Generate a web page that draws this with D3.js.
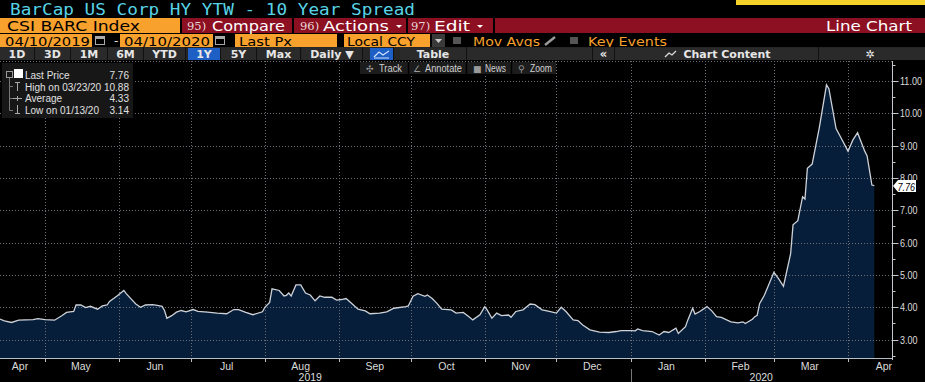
<!DOCTYPE html>
<html>
<head>
<meta charset="utf-8">
<script src="https://cdn.jsdelivr.net/npm/d3@7"></script>
<style>
  body { margin: 0; background: #000; }
  svg { display: block; }
  text { font-family: "DejaVu Sans", Verdana, sans-serif; }
  .small { font-family: "Liberation Sans", Arial, sans-serif; }
</style>
</head>
<body>
<div id="chart"></div>
<script>
// BarCap US Corp HY YTW - 10 year spread, daily-ish
const dates = [
  '2019-04-10','2019-04-14','2019-04-17','2019-04-20','2019-04-26','2019-04-28',
  '2019-05-01','2019-05-05','2019-05-08','2019-05-10','2019-05-13','2019-05-14','2019-05-16',
  '2019-05-18','2019-05-20','2019-05-23','2019-05-25','2019-05-27','2019-05-28','2019-05-31',
  '2019-06-03','2019-06-04','2019-06-06','2019-06-08','2019-06-10','2019-06-12','2019-06-15',
  '2019-06-17','2019-06-19','2019-06-20','2019-06-21','2019-06-23','2019-06-25','2019-06-27',
  '2019-06-29','2019-07-02','2019-07-04','2019-07-08','2019-07-12','2019-07-16','2019-07-19',
  '2019-07-21','2019-07-24','2019-07-27','2019-07-31','2019-08-01','2019-08-03','2019-08-04',
  '2019-08-07','2019-08-09','2019-08-10','2019-08-11','2019-08-12','2019-08-14','2019-08-16',
  '2019-08-18','2019-08-20','2019-08-22','2019-08-24','2019-08-26','2019-08-29','2019-08-31',
  '2019-09-02','2019-09-04','2019-09-06','2019-09-09','2019-09-12','2019-09-14','2019-09-18',
  '2019-09-21','2019-09-24','2019-09-29','2019-09-30','2019-10-02','2019-10-04','2019-10-07',
  '2019-10-08','2019-10-10','2019-10-12','2019-10-14','2019-10-18','2019-10-20','2019-10-23',
  '2019-10-25','2019-10-27','2019-10-30','2019-11-01','2019-11-02','2019-11-04','2019-11-06',
  '2019-11-08','2019-11-11','2019-11-12','2019-11-14','2019-11-17','2019-11-20','2019-11-22',
  '2019-11-25','2019-11-28','2019-12-01','2019-12-03','2019-12-05','2019-12-08','2019-12-10',
  '2019-12-12','2019-12-15','2019-12-19','2019-12-23','2019-12-26','2019-12-28','2020-01-01',
  '2020-01-03','2020-01-04','2020-01-06','2020-01-10','2020-01-13','2020-01-15','2020-01-17',
  '2020-01-20','2020-01-21','2020-01-24','2020-01-25','2020-01-27','2020-01-28','2020-01-30',
  '2020-02-02','2020-02-04','2020-02-06','2020-02-08','2020-02-12','2020-02-15','2020-02-17',
  '2020-02-18','2020-02-21','2020-02-22','2020-02-23','2020-02-24','2020-02-26','2020-03-01',
  '2020-03-03','2020-03-05','2020-03-08','2020-03-09','2020-03-11','2020-03-13','2020-03-14',
  '2020-03-15','2020-03-17','2020-03-20','2020-03-23','2020-03-24','2020-03-27','2020-03-29',
  '2020-04-01','2020-04-03','2020-04-05','2020-04-08','2020-04-09','2020-04-11','2020-04-12'
];
const spread = [
  3.70,3.58,3.53,3.60,3.62,3.65,
  3.62,3.60,3.74,3.84,3.87,4.07,4.07,
  3.99,4.03,3.94,4.04,4.07,4.18,4.34,
  4.52,4.42,4.26,4.10,4.00,4.07,4.08,
  4.06,4.03,3.90,3.66,3.74,3.85,3.90,
  3.86,3.93,3.87,3.85,3.82,3.80,3.93,
  3.93,3.84,3.77,3.86,4.00,4.15,4.57,
  4.52,4.35,4.37,4.44,4.35,4.69,4.69,
  4.44,4.38,4.20,4.35,4.31,4.31,4.22,
  4.24,4.27,4.14,3.94,3.89,3.80,3.82,
  3.86,3.97,4.02,4.04,4.34,4.42,4.34,
  4.38,4.27,4.12,3.94,3.92,3.82,3.84,
  3.73,3.61,3.77,4.02,3.92,3.66,3.82,
  3.74,3.76,3.69,3.87,3.92,4.10,4.08,
  3.92,3.87,3.82,4.00,3.87,3.61,3.59,
  3.45,3.30,3.23,3.22,3.25,3.28,3.28,
  3.27,3.33,3.28,3.25,3.14,3.25,3.22,
  3.35,3.19,3.40,3.61,3.97,3.79,3.87,
  4.02,3.89,3.71,3.69,3.55,3.52,3.55,
  3.50,3.63,3.71,3.75,4.11,4.37,5.08,
  4.88,4.65,5.66,6.55,6.68,7.42,7.35,
  8.30,8.43,9.56,10.88,10.76,9.53,9.25,
  8.83,9.17,9.40,8.83,8.68,7.78,7.76
];
const yTicks = [3, 4, 5, 6, 7, 8, 9, 10, 11];
const monthLabels = ['Apr','May','Jun','Jul','Aug','Sep','Oct','Nov','Dec','Jan','Feb','Mar','Apr'];
const legendRows = [
  ['Last Price', '7.76'],
  ['High on 03/23/20', '10.88'],
  ['Average', '4.33'],
  ['Low on 01/13/20', '3.14']
];
const lastValue = 7.76;

const W = 925, H = 382;
const plot = { left: 0, right: 892, top: 61, bottom: 358 };

const ORANGE = '#f8a12c';
const RED = '#8c1022';
const CYAN = '#58d3e6';
const FILL = '#061e3a';

const parse = d3.timeParse('%Y-%m-%d');
const data = dates.map((d, i) => ({ date: parse(d), value: spread[i] }));

const svg = d3.select('#chart').append('svg')
  .attr('width', W)
  .attr('height', H);

svg.append('rect').attr('width', W).attr('height', H).attr('fill', '#000');

// ---- header rows ----
svg.append('rect').attr('x', 736).attr('y', 0).attr('width', 189).attr('height', 5).attr('fill', '#f5d22a');

svg.append('text')
  .attr('x', 10).attr('y', 15)
  .attr('fill', CYAN)
  .style('font-family', '"DejaVu Sans Mono", monospace')
  .style('font-size', '16.5px')
  .attr('textLength', 405).attr('lengthAdjust', 'spacingAndGlyphs')
  .text('BarCap US Corp HY YTW - 10 Year Spread');

// row 1: ticker + red action bar
svg.append('rect').attr('x', 0).attr('y', 18).attr('width', W).attr('height', 15).attr('fill', RED);
svg.append('rect').attr('x', 0).attr('y', 18).attr('width', 181).attr('height', 15).attr('fill', ORANGE);
svg.append('text').attr('x', 7).attr('y', 30.5).attr('fill', '#000')
  .style('font-size', '14.5px').attr('textLength', 133).attr('lengthAdjust', 'spacingAndGlyphs')
  .text('CSI BARC Index');

const redButtons = [
  { x0: 182, x1: 292, num: '95)', label: 'Compare', nx: 187, lx: 212, lw: 73, arrow: false },
  { x0: 294, x1: 406, num: '96)', label: 'Actions', nx: 300, lx: 323, lw: 66, arrow: true },
  { x0: 408, x1: 493, num: '97)', label: 'Edit', nx: 411, lx: 434, lw: 36, arrow: true }
];
redButtons.forEach(b => {
  svg.append('line').attr('x1', b.x0 - 1).attr('x2', b.x0 - 1).attr('y1', 18).attr('y2', 33)
    .attr('stroke', '#000').attr('stroke-width', 2);
  svg.append('text').attr('x', b.nx).attr('y', 30).attr('fill', '#e8d8d8')
    .style('font-family', '"DejaVu Serif", serif').style('font-size', '11.5px').text(b.num);
  svg.append('text').attr('x', b.lx).attr('y', 30.5).attr('fill', '#fff')
    .style('font-size', '14px').attr('textLength', b.lw).attr('lengthAdjust', 'spacingAndGlyphs')
    .text(b.label);
  if (b.arrow) {
    svg.append('path')
      .attr('d', `M${b.lx + b.lw + 7},25 h6 l-3,3 Z`)
      .attr('fill', '#fff');
  }
});
svg.append('line').attr('x1', 494).attr('x2', 494).attr('y1', 18).attr('y2', 33)
  .attr('stroke', '#000').attr('stroke-width', 2);
svg.append('text').attr('x', 912).attr('y', 30.5).attr('text-anchor', 'end').attr('fill', '#fff')
  .style('font-size', '14px').attr('textLength', 86).attr('lengthAdjust', 'spacingAndGlyphs')
  .text('Line Chart');

// row 2: dates and options
const orangeBoxes = [
  { x: 0, w: 92, text: '04/10/2019', tx: 5, tw: 85 },
  { x: 120, w: 93, text: '04/10/2020', tx: 124, tw: 86 },
  { x: 235, w: 102, text: 'Last Px', tx: 239, tw: 53 },
  { x: 344, w: 86, text: 'Local CCY', tx: 347, tw: 68 }
];
orangeBoxes.forEach(b => {
  svg.append('rect').attr('x', b.x).attr('y', 34).attr('width', b.w).attr('height', 13).attr('fill', ORANGE);
  svg.append('text').attr('x', b.tx).attr('y', 45.5).attr('fill', '#000')
    .style('font-size', '13px').attr('textLength', b.tw).attr('lengthAdjust', 'spacingAndGlyphs')
    .text(b.text);
});
[93, 213].forEach(x => {
  const g = svg.append('g').attr('transform', `translate(${x + 2},36)`);
  g.append('rect').attr('x', 0.5).attr('y', 0.5).attr('width', 9).attr('height', 8).attr('fill', 'none').attr('stroke', '#aaa');
  g.append('rect').attr('width', 10).attr('height', 3).attr('fill', '#aaa');
});
svg.append('text').attr('x', 114).attr('y', 45).attr('fill', '#ddd').style('font-size', '12px').text('-');
svg.append('rect').attr('x', 432).attr('y', 34).attr('width', 13).attr('height', 13).attr('fill', '#3a3a3a');
svg.append('path').attr('d', 'M435,39 h7 l-3.5,4 Z').attr('fill', '#ccc');
svg.append('rect').attr('x', 453).attr('y', 37).attr('width', 8).attr('height', 7).attr('fill', '#555');
svg.append('text').attr('x', 473).attr('y', 45.5).attr('fill', ORANGE)
  .style('font-size', '13px').attr('textLength', 67).attr('lengthAdjust', 'spacingAndGlyphs').text('Mov Avgs');
svg.append('line').attr('x1', 545).attr('y1', 45).attr('x2', 555).attr('y2', 37)
  .attr('stroke', '#999').attr('stroke-width', 2.5);
svg.append('rect').attr('x', 570).attr('y', 37).attr('width', 8).attr('height', 7).attr('fill', '#555');
svg.append('text').attr('x', 588).attr('y', 45.5).attr('fill', ORANGE)
  .style('font-size', '13px').attr('textLength', 79).attr('lengthAdjust', 'spacingAndGlyphs').text('Key Events');

// row 3: period buttons
svg.append('rect').attr('x', 0).attr('y', 47).attr('width', W).attr('height', 13).attr('fill', '#262626');
const periodButtons = [
  { x0: 0, x1: 34, label: '1D' }, { x0: 35, x1: 70, label: '3D' }, { x0: 71, x1: 107, label: '1M' },
  { x0: 108, x1: 143, label: '6M' }, { x0: 144, x1: 185, label: 'YTD' }, { x0: 188, x1: 220, label: '1Y', on: true },
  { x0: 221, x1: 256, label: '5Y' }, { x0: 257, x1: 300, label: 'Max' }, { x0: 302, x1: 362, label: 'Daily ▼' },
  { x0: 370, x1: 393, label: '', on: true }, { x0: 400, x1: 466, label: 'Table' },
  { x0: 467, x1: 592, label: '' }, { x0: 593, x1: 614, label: '«' },
  { x0: 615, x1: 818, label: 'Chart Content' }, { x0: 819, x1: 925, label: '' }
];
periodButtons.forEach(b => {
  svg.append('rect').attr('x', b.x0).attr('y', 48).attr('width', b.x1 - b.x0).attr('height', 12)
    .attr('fill', b.on ? '#1d5fc4' : '#2a2a2a');
  svg.append('line').attr('x1', b.x1 + 0.5).attr('x2', b.x1 + 0.5).attr('y1', 47).attr('y2', 60)
    .attr('stroke', '#111');
  if (b.label) {
    const cx = b.label === 'Chart Content' ? 727 : (b.x0 + b.x1) / 2;
    svg.append('text').attr('x', cx).attr('y', 58).attr('text-anchor', 'middle').attr('fill', '#e6e6e6')
      .style('font-size', b.label === '«' ? '11.5px' : '11px').style('font-weight', 'bold').text(b.label);
  }
});
// small chart icons in buttons
svg.append('path').attr('d', 'M374,57 L379,52 L383,55 L389,51').attr('fill', 'none').attr('stroke', '#cfe0ff').attr('stroke-width', 1.2);
svg.append('line').attr('x1', 374).attr('x2', 389).attr('y1', 58).attr('y2', 58).attr('stroke', '#cfe0ff');
svg.append('path').attr('d', 'M665,57 L669,53 L672,55 L676,51').attr('fill', 'none').attr('stroke', '#ddd').attr('stroke-width', 1.2);
svg.append('text').attr('x', 870).attr('y', 58).attr('text-anchor', 'middle').attr('fill', '#eee')
  .style('font-size', '11px').style('font-weight', 'bold').text('✲');

// ---- plot ----
const x = d3.scaleTime()
  .domain([new Date(2019, 4, 1), new Date(2020, 3, 1)])
  .range([45, 848]);
const y = d3.scaleLinear()
  .domain([3, 11])
  .range([339.6, 81]);

const defs = svg.append('defs');
defs.append('clipPath').attr('id', 'clip')
  .append('rect').attr('x', plot.left).attr('y', plot.top)
  .attr('width', plot.right - plot.left).attr('height', plot.bottom - plot.top);

const months = x.ticks(d3.timeMonth.every(1))
  .concat([new Date(2019, 3, 1)])
  .sort((a, b) => a - b);

const area = d3.area()
  .x(d => x(d.date))
  .y0(plot.bottom)
  .y1(d => y(d.value));
const line = d3.line()
  .x(d => x(d.date))
  .y(d => y(d.value));

const body = svg.append('g').attr('clip-path', 'url(#clip)');
body.append('path').datum(data).attr('d', area).attr('fill', FILL);

// dotted grid drawn over the fill
const grid = body.append('g').attr('stroke', '#6a6f78').attr('stroke-width', 1).attr('stroke-dasharray', '1,2');
grid.selectAll('.hg').data(yTicks).join('line')
  .attr('x1', plot.left).attr('x2', plot.right)
  .attr('y1', d => Math.round(y(d)) + 0.5).attr('y2', d => Math.round(y(d)) + 0.5);
grid.append('line').attr('x1', plot.left).attr('x2', plot.right).attr('y1', plot.top + 0.5).attr('y2', plot.top + 0.5);
grid.selectAll('.vg').data(months.filter(d => x(d) > 0)).join('line')
  .attr('x1', d => Math.round(x(d)) + 0.5).attr('x2', d => Math.round(x(d)) + 0.5)
  .attr('y1', plot.top).attr('y2', plot.bottom);

body.append('path').datum(data).attr('d', line)
  .attr('fill', 'none').attr('stroke', '#cdd1d8').attr('stroke-width', 1.3);

// ---- x axis ----
svg.append('line').attr('x1', 0).attr('x2', plot.right).attr('y1', 358.5).attr('y2', 358.5)
  .attr('stroke', '#b8bcc4');
const xAxis = svg.append('g').attr('transform', 'translate(0,359)');
xAxis.selectAll('.tick').data(months.filter(d => x(d) > 0)).join('line')
  .attr('x1', d => Math.round(x(d)) + 0.5).attr('x2', d => Math.round(x(d)) + 0.5)
  .attr('y1', 0).attr('y2', 3).attr('stroke', '#b8bcc4');
xAxis.selectAll('text').data(months).join('text')
  .attr('class', 'small')
  .attr('x', (d, i) => Math.max(20, x(d3.timeDay.offset(d, 15))))
  .attr('y', 11)
  .attr('text-anchor', 'middle')
  .attr('fill', '#dcdcdc')
  .style('font-size', '10.5px')
  .text((d, i) => monthLabels[i]);
const yearSplit = x(new Date(2020, 0, 1));
svg.append('text').attr('class', 'small').attr('x', yearSplit / 2 - 5).attr('y', 381).attr('text-anchor', 'middle')
  .attr('fill', '#dcdcdc').style('font-size', '10.5px').text('2019');
svg.append('text').attr('class', 'small').attr('x', (yearSplit + plot.right) / 2).attr('y', 381).attr('text-anchor', 'middle')
  .attr('fill', '#dcdcdc').style('font-size', '10.5px').text('2020');
svg.append('line').attr('x1', Math.round(yearSplit) + 0.5).attr('x2', Math.round(yearSplit) + 0.5)
  .attr('y1', 369).attr('y2', 382).attr('stroke', '#777');

// ---- y axis (right) ----
svg.append('line').attr('x1', plot.right + 0.5).attr('x2', plot.right + 0.5).attr('y1', plot.top).attr('y2', 360)
  .attr('stroke', '#c4c8ce');
const yAxis = svg.append('g').attr('transform', `translate(${plot.right + 0.5},0)`);
const minor = d3.range(2.5, 11.51, 0.5).filter(v => !yTicks.includes(v));
yAxis.selectAll('.minor').data(minor).join('line')
  .attr('x1', 0).attr('x2', 3).attr('y1', d => Math.round(y(d)) + 0.5).attr('y2', d => Math.round(y(d)) + 0.5)
  .attr('stroke', '#c4c8ce');
yAxis.selectAll('.major').data(yTicks).join('line')
  .attr('x1', 0).attr('x2', 6).attr('y1', d => Math.round(y(d)) + 0.5).attr('y2', d => Math.round(y(d)) + 0.5)
  .attr('stroke', '#c4c8ce');

// the label next to the last-price flag only peeks out above it
const ly = Math.round(y(lastValue));
defs.append('clipPath').attr('id', 'peek')
  .append('rect').attr('x', 0).attr('y', 0).attr('width', 40).attr('height', ly - 6);
yAxis.selectAll('text').data(yTicks).join('text')
  .attr('class', 'small')
  .attr('clip-path', d => Math.abs(y(d) - y(lastValue)) <= 8 ? 'url(#peek)' : null)
  .attr('x', 7.5).attr('y', d => y(d) + 4)
  .attr('fill', '#dcdcdc')
  .style('font-size', '10.5px')
  .attr('textLength', d => d >= 10 ? 22 : 17.5)
  .attr('lengthAdjust', 'spacingAndGlyphs')
  .text(d => d3.format('.2f')(d));

// last price flag
svg.append('path')
  .attr('d', `M${plot.right + 1},${ly} L${plot.right + 6},${ly - 6} L916,${ly - 6} L916,${ly + 6} L${plot.right + 6},${ly + 6} Z`)
  .attr('fill', '#fff');
svg.append('text').attr('class', 'small').attr('x', 897.5).attr('y', ly + 4.5).attr('fill', '#000')
  .style('font-size', '11px').style('font-style', 'italic')
  .attr('textLength', 17.5).attr('lengthAdjust', 'spacingAndGlyphs')
  .text(d3.format('.2f')(lastValue));

// ---- chart tool strip ----
svg.append('rect').attr('x', 360).attr('y', 62).attr('width', 196).attr('height', 12).attr('fill', '#1c1c1c');
const tools = [
  { icon: '✣', ix: 366, label: 'Track', lx: 379, lw: 23, sep: 408 },
  { icon: '∠', ix: 413, label: 'Annotate', lx: 425, lw: 37, sep: 466 },
  { icon: '■', ix: 473, label: 'News', lx: 485, lw: 21, sep: 511 },
  { icon: '⚲', ix: 518, label: 'Zoom', lx: 530, lw: 22, sep: null }
];
tools.forEach(t => {
  svg.append('text').attr('x', t.ix).attr('y', 72).attr('fill', '#999').style('font-size', '9px').text(t.icon);
  svg.append('text').attr('class', 'small').attr('x', t.lx).attr('y', 72).attr('fill', '#d0d0d0')
    .style('font-size', '10px').attr('textLength', t.lw).attr('lengthAdjust', 'spacingAndGlyphs').text(t.label);
  if (t.sep) {
    svg.append('line').attr('x1', t.sep + 0.5).attr('x2', t.sep + 0.5).attr('y1', 62).attr('y2', 74)
      .attr('stroke', '#000').attr('stroke-width', 1.5);
  }
});

// ---- legend ----
svg.append('rect').attr('x', 2).attr('y', 63).attr('width', 131).attr('height', 55).attr('fill', '#171717');
svg.append('rect').attr('x', 6.5).attr('y', 71.5).attr('width', 6).attr('height', 6).attr('fill', 'none').attr('stroke', '#999');
svg.append('rect').attr('x', 14).attr('y', 69).attr('width', 9).attr('height', 9).attr('fill', '#fff');
svg.append('path').attr('d', 'M9.5,78 V110.5 H13 M9.5,86.5 H13 M9.5,98.5 H13').attr('fill', 'none').attr('stroke', '#777');
svg.append('path').attr('d', 'M15,82.5 H20 M17.5,82 V91').attr('stroke', '#aaa');
svg.append('path').attr('d', 'M13,98.5 H22 M17.5,96 V101').attr('stroke', '#aaa');
svg.append('path').attr('d', 'M17.5,105 V113 M15,113.5 H20').attr('stroke', '#aaa');
legendRows.forEach((r, i) => {
  const ty = 79 + i * 11.7;
  svg.append('text').attr('class', 'small').attr('x', 25).attr('y', ty).attr('fill', '#e0e0e0')
    .style('font-size', '10px').text(r[0]);
  svg.append('text').attr('class', 'small').attr('x', 129).attr('y', ty).attr('text-anchor', 'end').attr('fill', '#e0e0e0')
    .style('font-size', '10px').text(r[1]);
});
</script>
</body>
</html>
